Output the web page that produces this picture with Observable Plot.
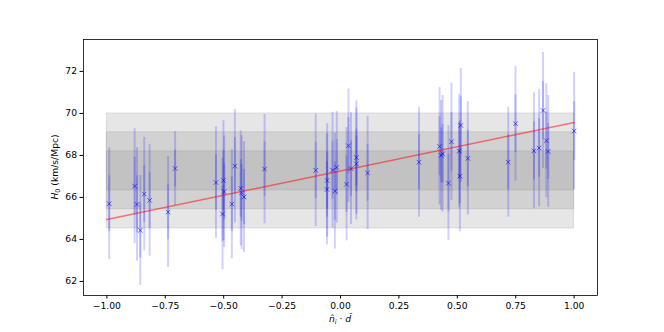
<!DOCTYPE html>
<html><head><meta charset="utf-8">
<script src="https://cdn.jsdelivr.net/npm/d3@7"></script>
<script src="https://cdn.jsdelivr.net/npm/@observablehq/plot@0.6"></script>
<style>body{margin:0;background:#fff} svg{font-family:"DejaVu Sans"}</style>
</head><body><div id="chart"></div>
<script>
const pointX = [-0.99,-0.881,-0.871,-0.857,-0.840,-0.817,-0.738,-0.708,-0.533,-0.505,-0.501,-0.498,-0.465,-0.452,-0.427,-0.423,-0.413,-0.325,-0.106,-0.058,-0.057,-0.034,-0.024,-0.016,0.026,0.034,0.045,0.068,0.068,0.116,0.336,0.424,0.431,0.437,0.462,0.475,0.508,0.511,0.515,0.545,0.718,0.749,0.828,0.850,0.867,0.881,0.889,1.0];
const pointH = [65.70,66.54,65.67,64.43,66.16,65.86,65.30,67.38,66.71,65.21,66.81,66.27,65.68,67.49,66.43,66.22,66.02,67.35,67.29,66.38,66.81,67.30,66.30,67.43,66.63,68.46,67.37,67.90,67.60,67.17,67.68,68.43,68.0,68.08,66.68,68.65,68.21,67.01,69.43,67.86,67.68,69.51,68.22,68.35,70.14,68.70,68.19,69.16];
const pointSigma = [1.33,1.37,1.35,1.31,1.35,1.33,1.32,0.88,1.33,1.33,1.43,1.33,1.30,1.35,1.37,1.36,1.32,1.30,1.34,1.32,1.35,1.38,1.38,1.33,1.35,1.35,1.33,1.35,1.33,1.35,1.31,1.40,1.31,1.39,1.37,1.40,1.35,1.32,1.36,1.35,1.31,1.37,1.38,1.40,1.38,1.36,1.33,1.40];
const bandLow = [64.52, 65.44, 66.33];
const bandHigh = [70.00, 69.10, 68.19];
const bandX = [-1, 1];
const fitX = [-1, 1];
const fitH = [64.95, 69.57];
const xTicks = [-1, -0.75, -0.5, -0.25, 0, 0.25, 0.5, 0.75, 1];
const yTicks = [62, 64, 66, 68, 70, 72];

const points = pointX.map((x, i) => ({x, h: pointH[i], s: pointSigma[i]}));
const bands = bandLow.map((lo, i) => ({lo, hi: bandHigh[i], x1: bandX[0], x2: bandX[1]}));
const fit = fitX.map((x, i) => ({x, h: fitH[i]}));

const chart = Plot.plot({
  width: 664, height: 332,
  marginLeft: 83, marginRight: 67, marginTop: 39, marginBottom: 37,
  x: {domain: [-1.1, 1.1]},
  y: {domain: [61.33, 73.52]},
  style: {fontFamily: "DejaVu Sans", fontSize: "9.2px", color: "black", background: "white"},
  marks: [
    Plot.rect(bands, {x1: "x1", x2: "x2", y1: "lo", y2: "hi", fill: "#808080", fillOpacity: 0.2, stroke: "#808080", strokeOpacity: 0.2, strokeWidth: 1}),
    Plot.ruleX(points, {x: "x", y1: d => d.h - 2 * d.s, y2: d => d.h + 2 * d.s, stroke: "blue", strokeOpacity: 0.18, strokeWidth: 2}),
    Plot.ruleX(points, {x: "x", y1: d => d.h - d.s, y2: d => d.h + d.s, stroke: "blue", strokeOpacity: 0.18, strokeWidth: 2}),
    Plot.dot(points, {x: "x", y: "h", symbol: "times", r: 2.2, stroke: "blue", strokeOpacity: 0.6, strokeWidth: 1}),
    Plot.line(fit, {x: "x", y: "h", stroke: "red", strokeOpacity: 0.5, strokeWidth: 1.5}),
    Plot.axisX({ticks: xTicks, tickFormat: d3.format(".2f"), tickSize: 3.5, tickPadding: 3, label: null}),
    Plot.axisY({ticks: yTicks, tickFormat: d => String(d), tickSize: 3.5, tickPadding: 3, label: null}),
    Plot.frame({stroke: "black", strokeWidth: 0.8})
  ]
});
document.getElementById("chart").appendChild(chart);

const svg = d3.select(chart);
const xl = svg.append("text")
  .attr("x", 340).attr("y", 322)
  .attr("text-anchor", "middle")
  .attr("font-family", "DejaVu Sans").attr("font-size", "9.2px").attr("fill", "black");
xl.append("tspan").attr("font-style", "italic").text("n\u0302");
xl.append("tspan").attr("font-style", "italic").attr("font-size", "6.5px").attr("dy", 2).text("i");
xl.append("tspan").attr("dy", -2).text(" \u00b7 ");
xl.append("tspan").attr("font-style", "italic").text("d\u0302");

const yl = svg.append("text")
  .attr("transform", "translate(58,167) rotate(-90)")
  .attr("text-anchor", "middle")
  .attr("font-family", "DejaVu Sans").attr("font-size", "9.2px").attr("fill", "black");
yl.append("tspan").attr("font-style", "italic").text("H");
yl.append("tspan").attr("font-size", "6.5px").attr("dy", 2).text("0");
yl.append("tspan").attr("dy", -2).text(" (km/s/Mpc)");
</script>
</body></html>
